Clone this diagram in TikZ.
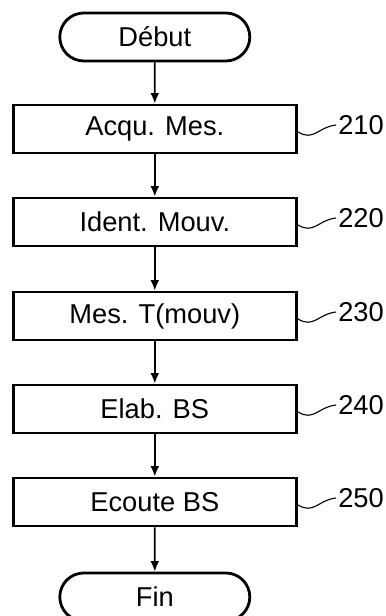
\documentclass[tikz,border=0pt]{standalone}
\usepackage{fontspec}
\setmainfont{Liberation Sans}
\usetikzlibrary{shapes.misc,arrows.meta}

\begin{document}
\begin{tikzpicture}[
  stepbox/.style={draw, line width=2pt, minimum width=7.075cm, minimum height=1.2cm,
                  inner sep=0pt, font=\fontsize{19.4}{23}\selectfont},
  term/.style   ={draw, rounded rectangle, line width=2pt, minimum width=4.75cm,
                  minimum height=1.2cm, inner sep=0pt, font=\fontsize{19.4}{23}\selectfont},
  flow/.style   ={-{Latex[length=2.6mm,width=2.2mm]}, line width=1.3pt},
  refnum/.style ={anchor=west, inner sep=0pt, font=\fontsize{19.4}{23}\selectfont},
  lead/.style   ={line width=0.8pt}]

  \useasboundingbox (0,0) rectangle (9.65,15.4);

  % start / end
  \node[term] (debut) at (3.87,14.475){Début};
  \node[term] (fin)   at (3.87,0.475) {Fin};

  % steps
  \node[stepbox] (s210) at (3.87,12.175){Acqu. Mes.};
  \node[stepbox] (s220) at (3.87,9.85)  {Ident. Mouv.};
  \node[stepbox] (s230) at (3.87,7.5)   {Mes. T(mouv)};
  \node[stepbox] (s240) at (3.87,5.175) {Elab. BS};
  \node[stepbox] (s250) at (3.87,2.85)  {Ecoute BS};

  % reference numbers
  \node[refnum] (l210) at (8.45,12.275){210};
  \node[refnum] (l220) at (8.45,9.95)  {220};
  \node[refnum] (l230) at (8.45,7.6)   {230};
  \node[refnum] (l240) at (8.45,5.275) {240};
  \node[refnum] (l250) at (8.45,2.95)  {250};
  \foreach \n in {210,220,...,250}{
    \draw[lead] ([yshift=-0.7mm]s\n.east) .. controls +(0.4,-0.25) and +(-0.45,-0.05) .. ([xshift=-0.5mm]l\n.west);}

  % flow
  \draw[flow] (debut) -- (s210);
  \draw[flow] (s210) -- (s220);
  \draw[flow] (s220) -- (s230);
  \draw[flow] (s230) -- (s240);
  \draw[flow] (s240) -- (s250);
  \draw[flow] (s250) -- (fin);
\end{tikzpicture}
\end{document}
